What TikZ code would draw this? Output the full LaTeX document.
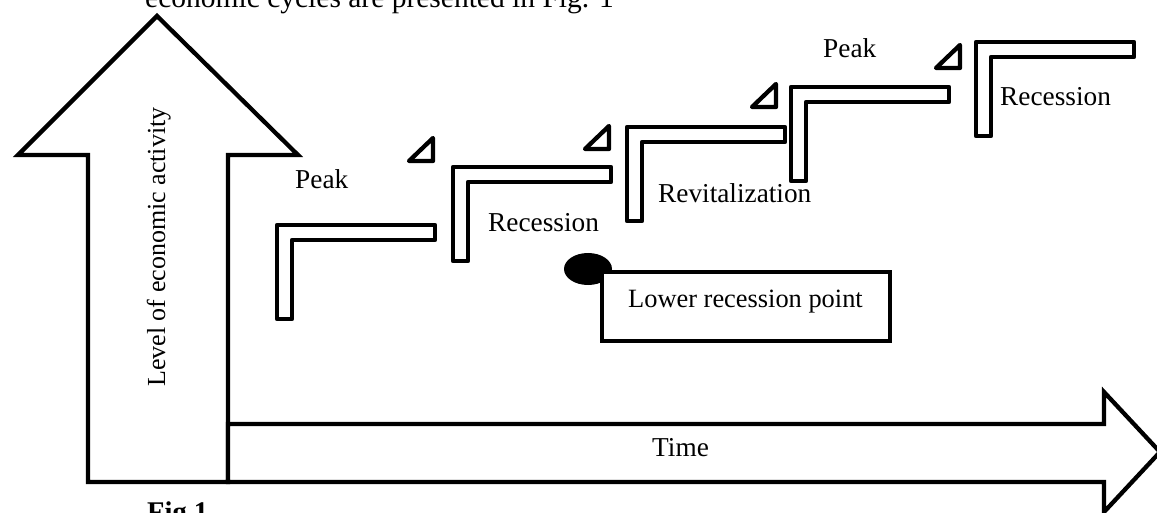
\documentclass[tikz,border=0pt]{standalone}
\usepackage{fontspec}
\setmainfont{Liberation Serif}
\begin{document}
\begin{tikzpicture}[x=1pt,y=-1pt,
  outline/.style={draw=black,line width=4.3pt,fill=white,line join=miter},
  stair/.style={draw=black,line width=4.3pt,fill=white,line join=round},
  lbl/.style={inner sep=0pt,anchor=base west,font=\fontsize{27.3}{32}\selectfont}]
\useasboundingbox (0,0) rectangle (1157,513);
\clip (0,0) rectangle (1157,513);

% running text above and caption below the figure
\node[lbl,font=\fontsize{29.5}{35}\selectfont] (intro) at (145,8) {economic cycles are presented in Fig. 1};
\node[lbl,font=\bfseries\fontsize{28.5}{34}\selectfont] (caption) at (147,521) {Fig.1};

% vertical axis arrow
\draw[outline] (88,482) -- (88,155) -- (18,155) -- (157,16) -- (298,155)
  -- (228,155) -- (228,482) -- cycle;
% horizontal axis arrow
\draw[outline] (228,424) -- (1104,424) -- (1104,392) -- (1160,452)
  -- (1104,512) -- (1104,482) -- (228,482) -- cycle;

\node[lbl,font=\fontsize{26}{31}\selectfont,rotate=90] (ylabel) at (165,387) {Level of economic activity};
\node[lbl] (xlabel) at (652,456) {Time};

% stair steps
\foreach \x/\y in {277/225,453/167,627/127,791/87,976/42}
  \draw[stair] (\x,\y) -- ++(158,0) -- ++(0,15) -- ++(-143,0)
    -- ++(0,79) -- ++(-15,0) -- cycle;

% small triangles
\foreach \x/\y in {433/161,609/149,776/107,960/68}
  \draw[stair] (\x,\y) -- ++(-24,0) -- ++(24,-23) -- cycle;

% phase labels
\node[lbl] (peakA) at (295,189) {Peak};
\node[lbl] (recA) at (488,232) {Recession};
\node[lbl] (revit) at (658,203) {Revitalization};
\node[lbl] (peakB) at (823,58) {Peak};
\node[lbl] (recB) at (1000,106) {Recession};

% lower recession point marker and box
\fill[black] (588,269) ellipse [x radius=24pt, y radius=16pt];
\draw[outline] (602,272) rectangle (890,341);
\node[lbl,font=\fontsize{26.4}{31}\selectfont] (lowpt) at (628,307) {Lower recession point};
\end{tikzpicture}
\end{document}
